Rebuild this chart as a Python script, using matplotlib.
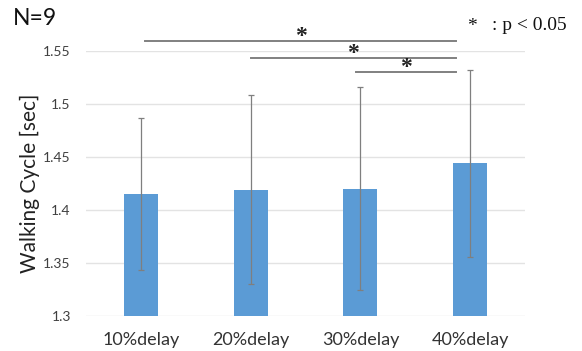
import numpy as np
import matplotlib.pyplot as plt

# walking cycle per delay condition (N=9)
conditions = ['10%delay', '20%delay', '30%delay', '40%delay']
mean_cycle = [1.415, 1.419, 1.420, 1.444]
sd_cycle = [0.0715, 0.089, 0.096, 0.0885]

# significant pairs (index a, index b) and bracket height
sig_pairs = [(0, 3), (1, 3), (2, 3)]
sig_levels = [1.5592, 1.5431, 1.5299]

bar_color = '#5B9BD5'
err_color = '#7F7F7F'

plt.rcParams['font.family'] = ['Lato', 'DejaVu Sans']

fig = plt.figure(figsize=(5.82, 3.51), dpi=100)
ax = fig.add_axes([0.1478, 0.1003, 0.7543, 0.7544])

x = np.arange(len(conditions))
ax.bar(x, mean_cycle, width=0.31, color=bar_color, zorder=2)
ax.errorbar(x, mean_cycle, yerr=sd_cycle, fmt='none', ecolor=err_color,
            elinewidth=0.9, capsize=2.5, capthick=0.9, zorder=3)

ax.set_xlim(-0.5, len(conditions) - 0.5)
ax.set_ylim(1.3, 1.55)
ax.set_yticks([1.3, 1.35, 1.4, 1.45, 1.5, 1.55])
ax.set_yticklabels(['1.3', '1.35', '1.4', '1.45', '1.5', '1.55'])
ax.set_xticks(x)
ax.set_xticklabels(conditions, fontsize=13, color='#333333')
ax.tick_params(axis='y', labelsize=10, colors='#404040', length=0, pad=11)
ax.tick_params(axis='x', length=0, pad=12)
ax.grid(axis='y', color='#E3E3E3', linewidth=1.0, zorder=0)
ax.set_axisbelow(True)
for s in ax.spines.values():
    s.set_visible(False)

ax.set_ylabel('Walking Cycle [sec]', fontsize=15, color='#222222', labelpad=2)

# significance brackets
for (a, b), lvl in zip(sig_pairs, sig_levels):
    x0 = a + 0.04 - 0.04 * a
    x1 = b - 0.13
    ax.plot([x0, x1], [lvl, lvl], color='#808080', linewidth=1.4,
            clip_on=False, zorder=3)
    ax.annotate('*', ((x0 + x1) / 2, lvl), xytext=(0, -4),
                textcoords='offset points', ha='center', va='bottom',
                fontsize=17, family='Liberation Serif', color='#222222',
                fontweight='bold', annotation_clip=False)

fig.text(0.022, 0.947, 'N=9', fontsize=16.5, ha='left', va='center', color='#111111')
fig.text(0.811, 0.925, '*', fontsize=14, ha='center', va='center',
         family='Liberation Serif', color='#111111')
fig.text(0.845, 0.928, ': p < 0.05', fontsize=14, ha='left', va='center',
         family='Liberation Serif', color='#111111')

fig.savefig('out.png', dpi=100)
